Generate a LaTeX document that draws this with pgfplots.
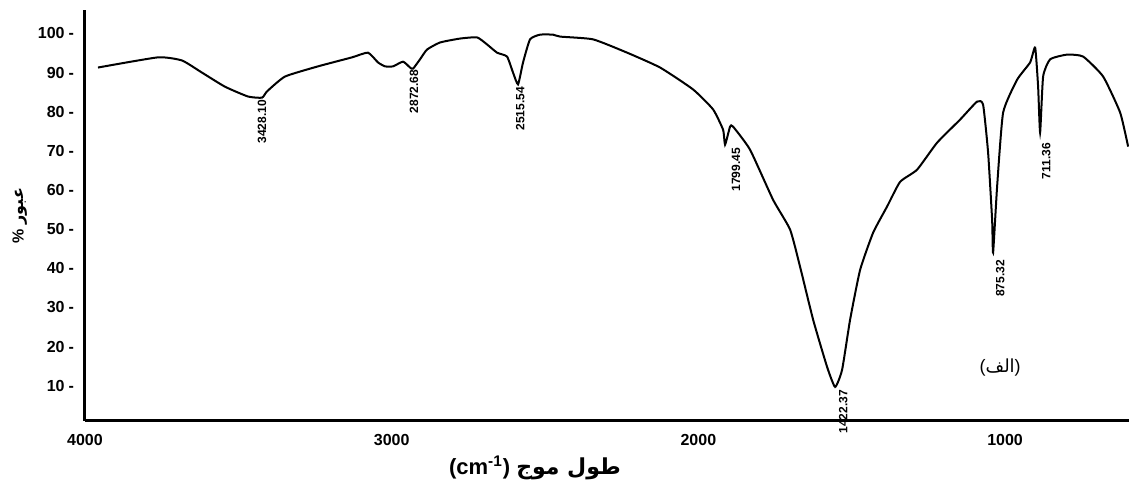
\documentclass[border=0pt]{standalone}
\usepackage{fontspec}
\setmainfont{Liberation Sans}
\newfontfamily\arabicfont[Script=Arabic]{DejaVu Sans}
\TeXXeTstate=1
\usepackage{pgfplots}
\pgfplotsset{compat=1.18}
\begin{document}
\begin{tikzpicture}
\begin{axis}[
  scale only axis,
  width=522pt, height=205.5pt,
  x dir=reverse,
  xmin=596, xmax=4000,
  ymin=1, ymax=106,
  axis x line=bottom,
  axis y line=left,
  axis line style={-, line width=1.5pt},
  xtick={1000,2000,3000,4000},
  ytick={10,20,...,100},
  major tick length=0pt,
  /pgf/number format/assume math mode=true,
  /pgf/number format/1000 sep={},
  ticklabel style={font=\bfseries\fontsize{8}{9}\selectfont},
  yticklabel={\pgfmathprintnumber{\tick}\hspace{2pt}-},
  yticklabel style={xshift=-2pt},
  xticklabel style={yshift=-3pt},
  clip=false,
]
\addplot[black, line width=1pt, smooth, tension=0.3] coordinates {
(3957.6,91.3) (3761.9,93.9) (3683.7,93.1) (3618.5,90.0) (3543.5,86.4)
(3468.5,83.9) (3422.8,83.6) (3406.5,85.2) (3347.8,89.0) (3240.2,91.6)
(3129.3,93.9) (3077.2,95.1) (3044.6,92.6) (3021.7,91.6) (2995.6,91.6)
(2963.0,92.8) (2940.2,91.3) (2930.4,91.0) (2907.6,93.4) (2884.7,95.9)
(2842.3,97.7) (2777.2,98.7) (2721.7,99.0) (2689.1,97.2) (2656.5,95.1)
(2623.9,94.1) (2604.3,90.0) (2588.0,87.0) (2571.7,92.6) (2548.9,98.5)
(2516.3,99.7) (2473.9,99.7) (2451.0,99.2) (2343.4,98.5) (2232.5,95.1)
(2124.9,91.3) (2017.3,85.7) (1952.1,80.6) (1919.5,75.4) (1913.0,71.6)
(1896.7,76.2) (1886.9,76.2) (1831.5,70.3) (1756.4,57.5) (1701.0,49.9)
(1668.4,40.4) (1626.0,26.9) (1580.3,14.8) (1554.2,9.7) (1531.4,14.1)
(1505.3,26.9) (1472.7,39.6) (1430.3,49.1) (1384.7,55.8) (1342.3,62.1)
(1287.0,65.2) (1221.7,72.1) (1146.7,78.0) (1091.3,82.6) (1071.7,81.8)
(1055.4,69.6) (1042.3,52.4) (1039.1,44.0) (1026.0,60.9) (1006.4,79.8)
(960.7,88.2) (918.4,92.6) (902.0,96.4) (892.3,86.4) (885.8,74.7)
(876.0,89.0) (853.1,93.4) (797.7,94.6) (745.5,94.1) (680.3,89.0)
(624.9,79.8) (598.8,71.1)
};
\begin{scope}[every node/.style={rotate=90, anchor=east, inner sep=0pt, font=\bfseries\fontsize{6}{7}\selectfont}]
\node at (axis cs:3422.8,83.1) {3428.10};
\node at (axis cs:2927,90.8) {2872.68};
\node at (axis cs:2581,86.4) {2515.54};
\node at (axis cs:1877,70.8) {1799.45};
\node at (axis cs:1528,9.0) {1422.37};
\node at (axis cs:1016,42.2) {875.32};
\node at (axis cs:866,72.1) {711.36};
\end{scope}
\node[font=\fontsize{9}{10}\selectfont, inner sep=0pt] at (axis cs:1016,14.6) {({\arabicfont\beginR الف\endR})};
\node[font=\bfseries\fontsize{11}{12}\selectfont, inner sep=0pt] at ([yshift=-23.5pt]rel axis cs:0.431,0) {(cm\textsuperscript{-1}) {\arabicfont\beginR طول موج\endR}};
\node[rotate=90, font=\bfseries\fontsize{8}{9}\selectfont, inner sep=0pt] at ([xshift=-32.5pt]rel axis cs:0,0.5) {\% {\arabicfont\beginR عبور\endR}};
\coordinate (ll) at (rel axis cs:0,0);
\coordinate (ur) at (rel axis cs:1,1);
\end{axis}
\pgfresetboundingbox
\path ([xshift=-42.5pt,yshift=-37.5pt]ll) rectangle ([yshift=5pt]ur);
\end{tikzpicture}
\end{document}
